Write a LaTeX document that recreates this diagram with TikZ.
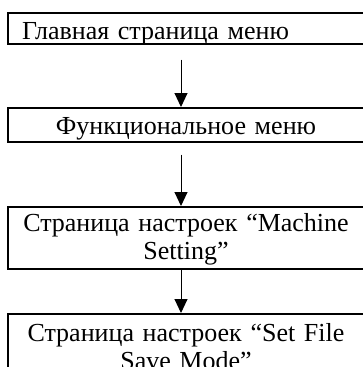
\documentclass[tikz,border=0pt]{standalone}
\usepackage{fontspec}
\setmainfont{Liberation Serif}
\usetikzlibrary{arrows.meta}
\begin{document}
\begin{tikzpicture}[x=1pt,y=-1pt,
  box/.style={draw=black, line width=1.6pt, rectangle, inner ysep=0pt,
    font=\fontsize{26}{28}\selectfont, anchor=north},
  leftbox/.style={box, text width=328pt, inner xsep=14pt, align=left},
  midbox/.style={box, text width=344pt, inner xsep=6pt, align=center},
  arr/.style={line width=1pt, -{Triangle[width=13pt,length=14pt]}}]
\useasboundingbox (0,0) rectangle (363,367);
\node[leftbox, text height=26.3pt, text depth=4.7pt] (b1) at (186,12) {Главная страница меню};
\node[midbox, text height=27pt, text depth=7pt] (b2) at (186,107) {Функциональное меню};
\node[midbox, text height=24.7pt, text depth=37.3pt] (b3) at (186,206) {Страница настроек “Machine\\Setting”};
\node[midbox, text height=27.7pt, text depth=40pt] (b4) at (186,313) {Страница настроек “Set File\\Save Mode”};
\draw[arr] ([xshift=-5pt,yshift=-15pt]b1.south) -- ([xshift=-5pt]b2.north);
\draw[arr] ([xshift=-5pt,yshift=-12pt]b2.south) -- ([xshift=-5pt]b3.north);
\draw[arr] ([xshift=-5pt]b3.south) -- ([xshift=-5pt]b4.north);
\end{tikzpicture}
\end{document}
